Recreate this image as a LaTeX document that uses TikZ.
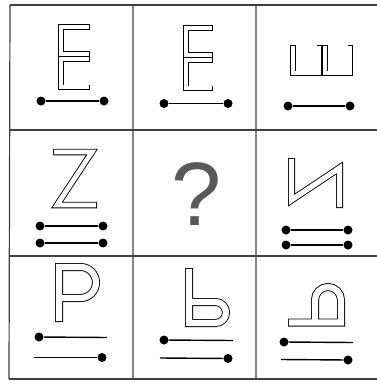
\documentclass[tikz,border=0pt]{standalone}
\usepackage{fontspec}
\newfontfamily\qfont{Liberation Sans}

% outlined strokes: black rim first, then white core
\newcommand\hollow[2][6pt]{%
  \foreach \p in {#2}{\draw[rim=#1] \p;}%
  \foreach \p in {#2}{\draw[core=#1] \p;}}

\begin{document}
\begin{tikzpicture}[x=1pt, y=-1pt,
  cell/.style={draw=black!75, line width=1.2pt},
  dot/.style={circle, fill=black, inner sep=0pt, minimum size=9pt},
  link/.style={line width=1.4pt},
  rim/.style={line width=#1, line join=miter},
  core/.style={white, line width=#1-1.8pt, shorten <=0.9pt, shorten >=0.9pt, line join=miter}
]
  \useasboundingbox (0,0) rectangle (376,383);

  % grid
  \draw[cell] (10,5) -- (380,5) (10,130) -- (380,130)
              (10,256) -- (380,256) (9,379) -- (380,379);
  \draw[cell] (10,5) -- (9,379) (133,5) -- (133,379)
              (256,5) -- (256,379) (380,5) -- (380,379);

  % row 1
  \hollow[5.5pt]{{(90,26.75) -- (60.75,26.75) -- (60.75,53.75) -- (90,53.75)}}
  \hollow[5.5pt]{{(90,59.25) -- (60.75,59.25) -- (60.75,87.25) -- (90,87.25)}}
  \hollow[5.5pt]{{(213,27.75) -- (185.75,27.75) -- (185.75,54.75) -- (213,54.75)}}
  \hollow[5.5pt]{{(213,60.25) -- (185.75,60.25) -- (185.75,88.25) -- (213,88.25)}}
  \hollow[5.5pt]{{(292.75,45) -- (292.75,73.25) -- (319.25,73.25) -- (319.25,45)}}
  \hollow[5.5pt]{{(324.75,45) -- (324.75,73.25) -- (350.25,73.25) -- (350.25,45)}}

  \node[dot] (a1) at (41,101) {};
  \node[dot] (a2) at (104,101) {};
  \draw[link] (a1) -- (a2);
  \node[dot] (b1) at (164,103.5) {};
  \node[dot] (b2) at (228,103.5) {};
  \draw[link] (b1) -- (b2);
  \node[dot] (c1) at (288,106) {};
  \node[dot] (c2) at (350,106) {};
  \draw[link] (c1) -- (c2);

  % row 2
  \hollow[6.5pt]{{(53,152) -- (92,152) -- (57,205) -- (97,205)}}
  \node[text=black!65, font=\qfont\fontsize{90}{90}\selectfont, inner sep=0pt]
    (q) at (197,194.5) {?};
  \hollow[7pt]{{(291.5,158) -- (291.5,200) -- (339.5,168) -- (339.5,208)}}

  \node[dot] (d1) at (40,226) {};
  \node[dot] (d2) at (103,226) {};
  \node[dot] (d3) at (40,243) {};
  \node[dot] (d4) at (103,243) {};
  \draw[link] (d1) -- (d2);
  \draw[link] (d3) -- (d4);
  \node[dot] (f1) at (286,230) {};
  \node[dot] (f2) at (348,230) {};
  \node[dot] (f3) at (286,245) {};
  \node[dot] (f4) at (348,245) {};
  \draw[link] (f1) -- (f2);
  \draw[link] (f3) -- (f4);

  % row 3
  \hollow[8pt]{{(59,322) -- (59,267) -- (80.5,267) arc(-90:90:15.5) -- (59,298)}}
  \hollow[8pt]{{(189,268) -- (189,323) -- (215.5,323) arc(90:-90:10.5) -- (189,302)}}
  \hollow[8pt]{{(288,322.5) -- (341,322.5) -- (341,300) arc(0:-180:13) -- (315,322.5)}}

  \node[dot] (g1) at (39,337) {};
  \coordinate (g2) at (107,337.5);
  \coordinate (g3) at (34,357.5);
  \node[dot] (g4) at (102,357.5) {};
  \draw[link] (g1) -- (g2);
  \draw[link] (g3) -- (g4);
  \node[dot] (h1) at (164,340) {};
  \coordinate (h2) at (233,340.5);
  \coordinate (h3) at (160,358);
  \node[dot] (h4) at (228,358.5) {};
  \draw[link] (h1) -- (h2);
  \draw[link] (h3) -- (h4);
  \node[dot] (k1) at (284,342) {};
  \coordinate (k2) at (353,342.5);
  \coordinate (k3) at (281,359.5);
  \node[dot] (k4) at (348,360) {};
  \draw[link] (k1) -- (k2);
  \draw[link] (k3) -- (k4);
\end{tikzpicture}
\end{document}
